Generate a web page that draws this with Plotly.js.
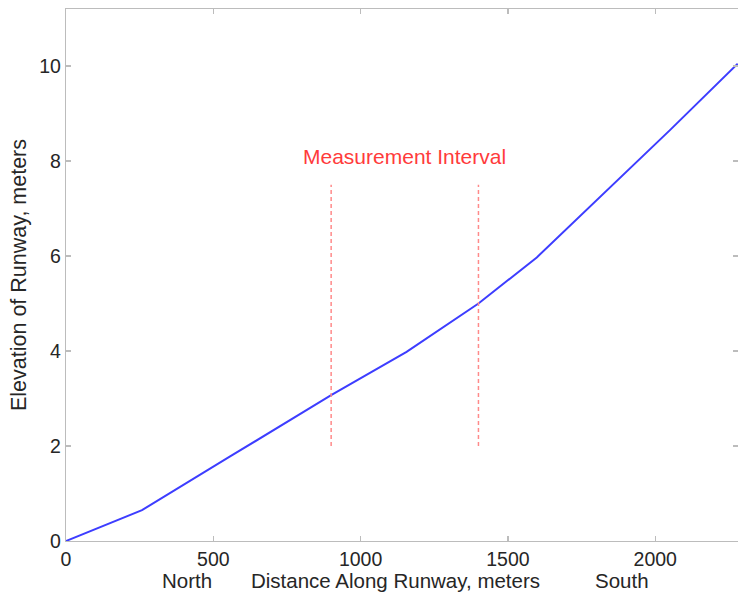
<!DOCTYPE html>
<html>
<head>
<meta charset="utf-8">
<script src="https://cdn.plot.ly/plotly-3.0.1.min.js"></script>
<style>
  html, body { margin: 0; padding: 0; background: #fff; }
  #chart { width: 738px; height: 594px; }
</style>
</head>
<body>
<div id="chart"></div>
<script>
// Runway elevation profile, north to south
const distance = [0, 258, 557, 760, 900, 1156, 1400, 1598, 1807, 2050, 2280];
const elevation = [0, 0.65, 1.78, 2.55, 3.07, 3.98, 5.0, 5.97, 7.2, 8.65, 10.05];

// Measurement interval bounds and the height span of their marker lines
const intervalBounds = [900, 1400];
const markerSpan = [2, 7.5];
const intervalLabel = 'Measurement Interval';

const xTicks = [0, 500, 1000, 1500, 2000];
const yTicks = [0, 2, 4, 6, 8, 10];

const FONT = 'Liberation Sans, Arial, Helvetica, sans-serif';
const TEXT = '#262626';
const AXIS = '#bcbcbc';

const traces = [
  {
    x: distance, y: elevation, type: 'scatter', mode: 'lines',
    line: { color: '#3d3dff', width: 2 }, hoverinfo: 'skip'
  }
];
intervalBounds.forEach(b => {
  traces.push({
    x: [b, b], y: markerSpan, type: 'scatter', mode: 'lines',
    line: { color: '#ff8a8a', width: 1.5, dash: '4px,3px' }, hoverinfo: 'skip'
  });
});

const axisCommon = {
  showgrid: false, zeroline: false, showline: true, linecolor: AXIS, linewidth: 1.2,
  mirror: 'ticks', ticks: 'inside', ticklen: 5, tickcolor: AXIS, tickwidth: 1.2,
  tickfont: { family: FONT, size: 19.5, color: TEXT }
};

const layout = {
  width: 738, height: 594,
  margin: { l: 66, r: 0, t: 9, b: 53 },
  paper_bgcolor: '#fff', plot_bgcolor: '#fff',
  showlegend: false,
  xaxis: Object.assign({}, axisCommon, {
    range: [0, 2281], tickvals: xTicks, ticktext: xTicks.map(String)
  }),
  yaxis: Object.assign({}, axisCommon, {
    range: [0, 11.2], tickvals: yTicks, ticktext: yTicks.map(String),
    title: { text: 'Elevation of Runway, meters', font: { family: FONT, size: 21.5, color: TEXT }, standoff: 6 }
  }),
  annotations: [
    {
      x: (intervalBounds[0] + intervalBounds[1]) / 2, y: 8.1, xref: 'x', yref: 'y',
      text: intervalLabel, showarrow: false,
      font: { family: FONT, size: 21, color: '#ff3b3b' }
    },
    {
      x: 410, y: -0.075, xref: 'x', yref: 'paper', yanchor: 'middle',
      text: 'North', showarrow: false, font: { family: FONT, size: 20.5, color: TEXT }
    },
    {
      x: 1120, y: -0.075, xref: 'x', yref: 'paper', yanchor: 'middle',
      text: 'Distance Along Runway, meters', showarrow: false, font: { family: FONT, size: 20.5, color: TEXT }
    },
    {
      x: 1888, y: -0.075, xref: 'x', yref: 'paper', yanchor: 'middle',
      text: 'South', showarrow: false, font: { family: FONT, size: 20.5, color: TEXT }
    }
  ]
};

Plotly.newPlot('chart', traces, layout, { displayModeBar: false, staticPlot: true });
</script>
</body>
</html>
